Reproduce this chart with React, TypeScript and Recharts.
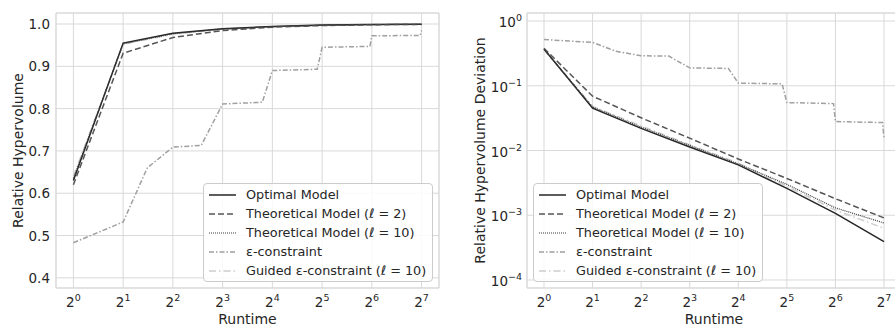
import React from 'react';
import { LineChart, Line, XAxis, YAxis, CartesianGrid, ReferenceArea } from 'recharts';

// runtimes (powers of two) shared by the model series
const runtimes = [1, 2, 4, 8, 16, 32, 64, 128];

// left panel: relative hypervolume
const hvOptimal = [0.63, 0.955, 0.978, 0.989, 0.994, 0.9974, 0.9989, 0.9996];
const hvTheo2 = [0.62, 0.931, 0.968, 0.9845, 0.9926, 0.9963, 0.9982, 0.9991];
const hvTheo10 = [0.635, 0.953, 0.977, 0.988, 0.9938, 0.997, 0.9987, 0.9992];
const hvGuided = [0.64, 0.952, 0.976, 0.9878, 0.9936, 0.9972, 0.9988, 0.9994];

// right panel: relative hypervolume deviation
const devOptimal = [0.37, 0.045, 0.022, 0.0113, 0.006, 0.0026, 0.00107, 0.00039];
const devTheo2 = [0.38, 0.069, 0.032, 0.0155, 0.0074, 0.0037, 0.0018, 0.00091];
const devTheo10 = [0.365, 0.047, 0.023, 0.012, 0.0062, 0.003, 0.0013, 0.00076];
const devGuided = [0.36, 0.048, 0.024, 0.0122, 0.0064, 0.0028, 0.0012, 0.00063];

// epsilon-constraint has its own (stepped) runtimes
const epsRuntimes = [1, 2, 2.8, 4, 5.94, 8, 13.9, 16, 29.9, 32, 62.3, 64, 125.4, 128];
const hvEps = [0.483, 0.532, 0.66, 0.709, 0.713, 0.811, 0.815, 0.89, 0.893, 0.945, 0.947, 0.972, 0.973, 0.985];
const devEps = [0.517, 0.468, 0.34, 0.291, 0.287, 0.189, 0.185, 0.11, 0.107, 0.055, 0.053, 0.028, 0.027, 0.0155];

const hvTicks = [0.4, 0.5, 0.6, 0.7, 0.8, 0.9, 1.0];
const devTicks = [0.0001, 0.001, 0.01, 0.1, 1];

const FONT = 'DejaVu Sans';
const TEXT = '#262626';
const GRID = '#d9d9d9';
const X_DOMAIN = [Math.pow(2, -0.35), Math.pow(2, 7.35)];
const DEV_DOMAIN = [Math.pow(10, -4.124), Math.pow(10, 0.124)];
const HV_DOMAIN = [0.376, 1.026];

const seriesStyle = [
  { name: 'Optimal Model', color: '#262626', dash: undefined, width: 1.5 },
  { name: 'Theoretical Model (\u2113 = 2)', color: '#555555', dash: '6 3', width: 1.5 },
  { name: 'Theoretical Model (\u2113 = 10)', color: '#3a3a3a', dash: '1 1', width: 1.2 },
  { name: '\u03b5-constraint', color: '#a0a0a0', dash: '5 2 1.5 2', width: 1.5 },
  { name: 'Guided \u03b5-constraint (\u2113 = 10)', color: '#cdcdcd', dash: '7 3 1.5 3', width: 1.5 },
];

const toPoints = (xs: number[], ys: number[]) => xs.map((x, i) => ({ x, y: ys[i] }));

const PowXTick = (props: any) => {
  const { x, y, payload } = props;
  const exp = Math.round(Math.log2(payload.value));
  return (
    <text x={x} y={y + 11} textAnchor="middle" fill={TEXT} fontSize={13.5} fontFamily={FONT}>
      <tspan>2</tspan>
      <tspan dy={-6} fontSize={9.5}>{exp}</tspan>
    </text>
  );
};

const PowYTick = (props: any) => {
  const { x, y, payload } = props;
  const exp = Math.round(Math.log10(payload.value));
  const label = exp < 0 ? '\u2212' + Math.abs(exp) : String(exp);
  return (
    <text x={x + 3} y={y + 6} textAnchor="end" fill={TEXT} fontSize={13.5} fontFamily={FONT}>
      <tspan>10</tspan>
      <tspan dy={-6} fontSize={9.5}>{label}</tspan>
    </text>
  );
};

const HvYTick = (props: any) => {
  const { x, y, payload } = props;
  return (
    <text x={x + 2} y={y + 5} textAnchor="end" fill={TEXT} fontSize={13.5} fontFamily={FONT}>
      {payload.value.toFixed(1)}
    </text>
  );
};

const Legend = ({ left }: { left: number }) => (
  <div
    style={{
      position: 'absolute',
      left,
      top: 183,
      width: 228,
      height: 97,
      border: '1px solid #cccccc',
      borderRadius: 4,
      background: 'rgba(255,255,255,0.85)',
      fontFamily: FONT,
      fontSize: 12.8,
      color: TEXT,
    }}
  >
    {seriesStyle.map((s, i) => (
      <div key={s.name} style={{ position: 'absolute', left: 5, top: 1 + i * 19, height: 19, display: 'flex', alignItems: 'center', whiteSpace: 'nowrap' }}>
        <svg width={28} height={10} style={{ marginRight: 9 }}>
          <line x1={0} y1={5} x2={27} y2={5} stroke={s.color} strokeWidth={s.width} strokeDasharray={s.dash} />
        </svg>
        <span>{s.name}</span>
      </div>
    ))}
  </div>
);

const YLabel = ({ text, x }: { text: string; x: number }) => (
  <text
    x={x}
    y={150.5}
    transform={`rotate(-90, ${x}, 150.5)`}
    textAnchor="middle"
    dominantBaseline="central"
    fill={TEXT}
    fontSize={14}
    fontFamily={FONT}
  >
    {text}
  </text>
);

const XLabel = ({ x }: { x: number }) => (
  <text x={x} y={324} textAnchor="middle" fill={TEXT} fontSize={14} fontFamily={FONT}>
    Runtime
  </text>
);

const renderLines = (ys: number[][], eps: number[]) => {
  const modelData = [ys[0], ys[1], ys[2]];
  return [
    <Line key="guided" data={toPoints(runtimes, ys[3])} dataKey="y" stroke={seriesStyle[4].color} strokeWidth={seriesStyle[4].width} strokeDasharray={seriesStyle[4].dash} dot={false} isAnimationActive={false} />,
    <Line key="eps" data={toPoints(epsRuntimes, eps)} dataKey="y" stroke={seriesStyle[3].color} strokeWidth={seriesStyle[3].width} strokeDasharray={seriesStyle[3].dash} dot={false} isAnimationActive={false} />,
    ...modelData.map((vals, i) => (
      <Line key={'m' + i} data={toPoints(runtimes, vals)} dataKey="y" stroke={seriesStyle[i].color} strokeWidth={seriesStyle[i].width} strokeDasharray={seriesStyle[i].dash} dot={false} isAnimationActive={false} />
    )),
  ];
};

export default function App() {
  return (
    <div style={{ position: 'fixed', left: 0, top: 0, width: 895, height: 327, overflow: 'hidden', background: '#ffffff' }}>
      <div style={{ position: 'absolute', left: 0, top: 0 }}>
        <LineChart width={445} height={327} margin={{ top: 13, right: 6, bottom: 0, left: 0 }}>
          <CartesianGrid stroke={GRID} strokeWidth={1} />
          <XAxis
            dataKey="x"
            type="number"
            scale="log"
            domain={X_DOMAIN}
            allowDataOverflow
            ticks={runtimes}
            tick={<PowXTick />}
            tickLine={false}
            axisLine={false}
            height={39}
          />
          <YAxis
            type="number"
            domain={HV_DOMAIN}
            allowDataOverflow
            ticks={hvTicks}
            tick={<HvYTick />}
            tickLine={false}
            axisLine={false}
            width={56}
          />
          <ReferenceArea x1={X_DOMAIN[0]} x2={X_DOMAIN[1]} y1={HV_DOMAIN[0]} y2={HV_DOMAIN[1]} fill="none" stroke={GRID} strokeWidth={1} />
          {renderLines([hvOptimal, hvTheo2, hvTheo10, hvGuided], hvEps)}
          <YLabel text="Relative Hypervolume" x={18} />
          <XLabel x={247.5} />
        </LineChart>
        <Legend left={203} />
      </div>
      <div style={{ position: 'absolute', left: 445, top: 0 }}>
        <LineChart width={456} height={327} margin={{ top: 13, right: 0, bottom: 0, left: 0 }}>
          <CartesianGrid stroke={GRID} strokeWidth={1} />
          <XAxis
            dataKey="x"
            type="number"
            scale="log"
            domain={X_DOMAIN}
            allowDataOverflow
            ticks={runtimes}
            tick={<PowXTick />}
            tickLine={false}
            axisLine={false}
            height={39}
          />
          <YAxis
            type="number"
            scale="log"
            domain={DEV_DOMAIN}
            allowDataOverflow
            ticks={devTicks}
            tick={<PowYTick />}
            tickLine={false}
            axisLine={false}
            width={82}
          />
          <ReferenceArea x1={X_DOMAIN[0]} x2={X_DOMAIN[1]} y1={DEV_DOMAIN[0]} y2={DEV_DOMAIN[1]} fill="none" stroke={GRID} strokeWidth={1} />
          {renderLines([devOptimal, devTheo2, devTheo10, devGuided], devEps)}
          <YLabel text="Relative Hypervolume Deviation" x={35} />
          <XLabel x={269} />
        </LineChart>
        <Legend left={88} />
      </div>
    </div>
  );
}
